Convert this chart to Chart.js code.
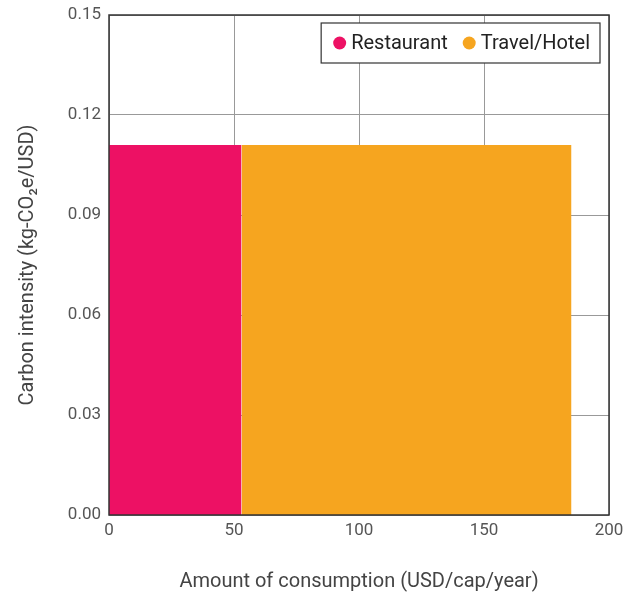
<!DOCTYPE html>
<html>
<head>
<meta charset="utf-8">
<script src="https://cdn.jsdelivr.net/npm/chart.js@4/dist/chart.umd.min.js"></script>
<style>
html,body{margin:0;padding:0;background:#fff;}
#wrap{width:639px;height:595px;}
</style>
</head>
<body>
<div id="wrap"><canvas id="c" width="639" height="595"></canvas></div>
<script>
const categories = ['Restaurant', 'Travel/Hotel'];
const xStart = [0, 53];
const xEnd = [53, 185];
const intensity = [0.111, 0.111];
const colors = ['#ED1164', '#F6A51F'];
const yTicks = [0, 0.03, 0.06, 0.09, 0.12, 0.15];
const xTicks = [0, 50, 100, 150, 200];

const FONT = 'Roboto, "Liberation Sans", sans-serif';

const datasets = categories.map((c, i) => ({
  label: c,
  data: [{x: xStart[i], y: intensity[i]}, {x: xEnd[i], y: intensity[i]}],
  backgroundColor: colors[i],
  borderColor: colors[i],
  borderWidth: 0,
  pointRadius: 0,
  fill: 'origin',
  tension: 0
}));

const framePlugin = {
  id: 'frame',
  afterDraw(chart) {
    const {ctx, chartArea: a} = chart;
    ctx.save();
    ctx.strokeStyle = '#333';
    ctx.lineWidth = 1.5;
    ctx.strokeRect(a.left, a.top, a.right - a.left, a.bottom - a.top);
    ctx.restore();
  }
};

const legendBoxPlugin = {
  id: 'legendBox',
  afterDraw(chart) {
    const {ctx, chartArea: a} = chart;
    ctx.save();
    ctx.font = '20px ' + FONT;
    ctx.textBaseline = 'middle';
    const r = 6.5, gapDotText = 5, gapItems = 15, padL = 12, padR = 10;
    let widths = chart.data.datasets.map(d => ctx.measureText(d.label).width);
    let total = padL + padR;
    widths.forEach((w, i) => { total += r * 2 + gapDotText + w + (i < widths.length - 1 ? gapItems : 0); });
    const right = a.right - 9, top = a.top + 8, h = 40;
    const left = right - total;
    ctx.fillStyle = '#fff';
    ctx.fillRect(left, top, total, h);
    ctx.strokeStyle = '#333';
    ctx.lineWidth = 1.2;
    ctx.strokeRect(left, top, total, h);
    let x = left + padL;
    const cy = top + h / 2;
    chart.data.datasets.forEach((d, i) => {
      ctx.fillStyle = d.backgroundColor;
      ctx.beginPath();
      ctx.arc(x + r, cy, r, 0, Math.PI * 2);
      ctx.fill();
      x += r * 2 + gapDotText;
      ctx.fillStyle = '#222';
      ctx.fillText(d.label, x, cy + 1);
      x += widths[i] + gapItems;
    });
    ctx.restore();
  }
};

new Chart(document.getElementById('c'), {
  type: 'line',
  data: { datasets },
  options: {
    responsive: false,
    animation: false,
    layout: { padding: { left: 0, right: 30, top: 15, bottom: 0 } },
    plugins: {
      legend: { display: false },
      tooltip: { enabled: false },
      filler: { propagate: false }
    },
    scales: {
      x: {
        type: 'linear',
        min: 0, max: 200,
        afterBuildTicks(s) { s.ticks = xTicks.map(v => ({value: v})); },
        afterFit(s) { s.height = 80; s.paddingLeft = 0; s.paddingRight = 0; },
        grid: { color: '#999', lineWidth: 1, drawTicks: false },
        border: { display: false },
        ticks: { color: '#555', font: { family: FONT, size: 17 }, padding: 6 },
        title: { display: true, text: 'Amount of consumption (USD/cap/year)', color: '#444',
                 font: { family: FONT, size: 20 }, padding: { top: 1, bottom: 1 } }
      },
      y: {
        type: 'linear',
        min: 0, max: 0.15,
        afterBuildTicks(s) { s.ticks = yTicks.map(v => ({value: v})); },
        afterFit(s) { s.width = 109; s.paddingTop = 0; s.paddingBottom = 0; },
        grid: { color: '#999', lineWidth: 1, drawTicks: false },
        border: { display: false },
        ticks: { color: '#555', font: { family: FONT, size: 17 }, padding: 8,
                 callback: v => Number(v).toFixed(2) },
        title: { display: true, text: 'Carbon intensity (kg-CO₂e/USD)', color: '#444',
                 font: { family: FONT, size: 20 }, padding: { top: 16, bottom: 4 } }
      }
    }
  },
  plugins: [framePlugin, legendBoxPlugin]
});
</script>
</body>
</html>
